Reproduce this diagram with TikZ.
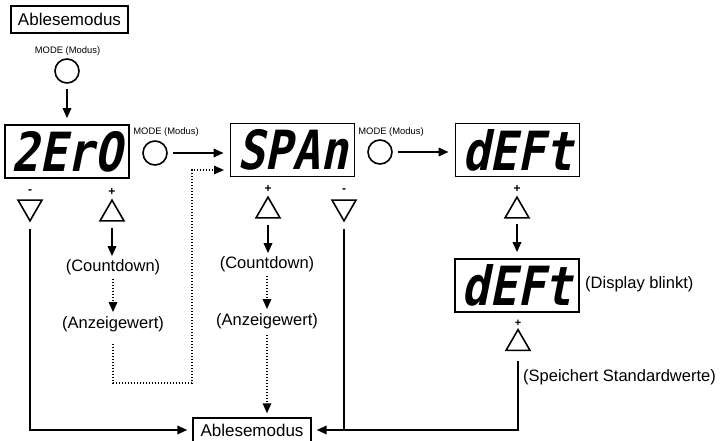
\documentclass[tikz,border=0pt]{standalone}
\usepackage{fontspec}
\setmainfont{Liberation Sans}
\newfontfamily\segfont[FakeSlant=0.2,FakeStretch=0.85]{DejaVu Sans Mono}
\usetikzlibrary{arrows.meta,shapes.geometric}
\begin{document}
\begin{tikzpicture}[x=1pt,y=-1pt,
  box/.style={draw,line width=1.4pt,inner sep=0pt,font=\fontsize{17}{20}\selectfont},
  disp/.style={draw,line width=1.8pt,minimum width=124pt,minimum height=53pt,inner sep=0pt,font=\segfont\bfseries\fontsize{54}{54}\selectfont},
  btn/.style={draw,circle,line width=1.6pt,minimum size=24pt,inner sep=0pt},
  lab/.style={font=\fontsize{16.5}{19}\selectfont,inner sep=0pt},
  modelab/.style={font=\fontsize{9.4}{11}\selectfont,inner sep=0pt},
  keyup/.style={draw,regular polygon,regular polygon sides=3,line width=1.6pt,minimum size=27.7pt,inner sep=0pt},
  keydn/.style={keyup,shape border rotate=180},
  sign/.style={font=\fontsize{12}{12}\selectfont\bfseries,inner sep=0pt},
  arr/.style={line width=1.8pt,-{Triangle[length=10pt,width=8.5pt]}},
  dotarr/.style={arr,line width=1.6pt,dash pattern=on 1.6pt off 1.4pt}]
\useasboundingbox (0,0) rectangle (722,441);
\node[box,minimum width=117pt,minimum height=27pt] (rdtop) at (69.5,19.5) {Ablesemodus};
\node[modelab] (m1) at (67.5,51) {MODE (Modus)};
\node[btn] (b1) at (67,71) {};
\node[disp] (zero) at (67,151.5) {2ErO};
\node[modelab] (m2) at (166,132) {MODE (Modus)};
\node[btn] (b2) at (155,153) {};
\node[disp] (span) at (292.5,150) {SPAn};
\node[modelab] (m3) at (391,132) {MODE (Modus)};
\node[btn] (b3) at (380,152) {};
\node[disp] (deft) at (517.5,150) {dEFt};
\node[disp] (deftb) at (517,285.5) {dEFt};
\node[lab,anchor=west] (blink) at (585,284) {(Display blinkt)};
\node[lab,anchor=west] (save) at (523,377) {(Speichert Standardwerte)};
\node[keydn] (dn1) at (30,207) {};
\node[sign] (n1) at (30,192) {-};
\node[keyup] (up1) at (112,214) {};
\node[sign] (p1) at (112,192) {+};
\node[keyup] (up2) at (268,211) {};
\node[sign] (p2) at (268,189) {+};
\node[keydn] (dn2) at (344,207) {};
\node[sign] (n2) at (344,191) {-};
\node[keyup] (up3) at (517,211) {};
\node[sign] (p3) at (517,189) {+};
\node[keyup] (up4) at (518,343.5) {};
\node[sign,font=\fontsize{11}{11}\selectfont\bfseries] (p4) at (518,323) {+};
\node[lab] (cd1) at (113,267) {(Countdown)};
\node[lab] (az1) at (113,324) {(Anzeigewert)};
\node[lab] (cd2) at (267,264) {(Countdown)};
\node[lab] (az2) at (267,321) {(Anzeigewert)};
\node[box,minimum width=118pt,minimum height=24pt] (rd) at (252,430) {Ablesemodus};
\coordinate (lp) at (192,383);
\coordinate (lq) at (224,170);
\draw[arr,shorten <=5pt,shorten >=6pt] (b1) -- (zero);
\draw[arr,shorten <=5pt,shorten >=6pt] (b2) -- (b2 -| span.west);
\draw[arr,shorten <=5pt,shorten >=6pt] (b3) -- (b3 -| deft.west);
\draw[arr,shorten <=5pt,shorten >=6pt] (up3) -- (deftb);
\draw[arr,shorten <=6pt,shorten >=3pt] (up1) -- (up1 |- cd1.north);
\draw[dotarr,shorten <=4pt,shorten >=4pt] (cd1.south) -- (cd1.south |- az1.north);
\draw[dotarr,shorten <=12pt] (az1.south) |- (lp) |- (lq);
\draw[arr,shorten <=6pt,shorten >=3pt] (up2) -- (up2 |- cd2.north);
\draw[dotarr,shorten <=4pt,shorten >=4pt] (cd2.south) -- (cd2.south |- az2.north);
\draw[dotarr,shorten <=6pt,shorten >=4pt] (az2.south) -- (az2.south |- rd.north);
\draw[arr,shorten <=7pt,shorten >=5pt] (dn1) |- (rd.west);
\draw[arr,shorten <=7pt,shorten >=5pt] (dn2) |- (rd.east);
\draw[line width=1.8pt,shorten <=10pt] (up4) |- (dn2 |- rd.east);
\end{tikzpicture}
\end{document}
